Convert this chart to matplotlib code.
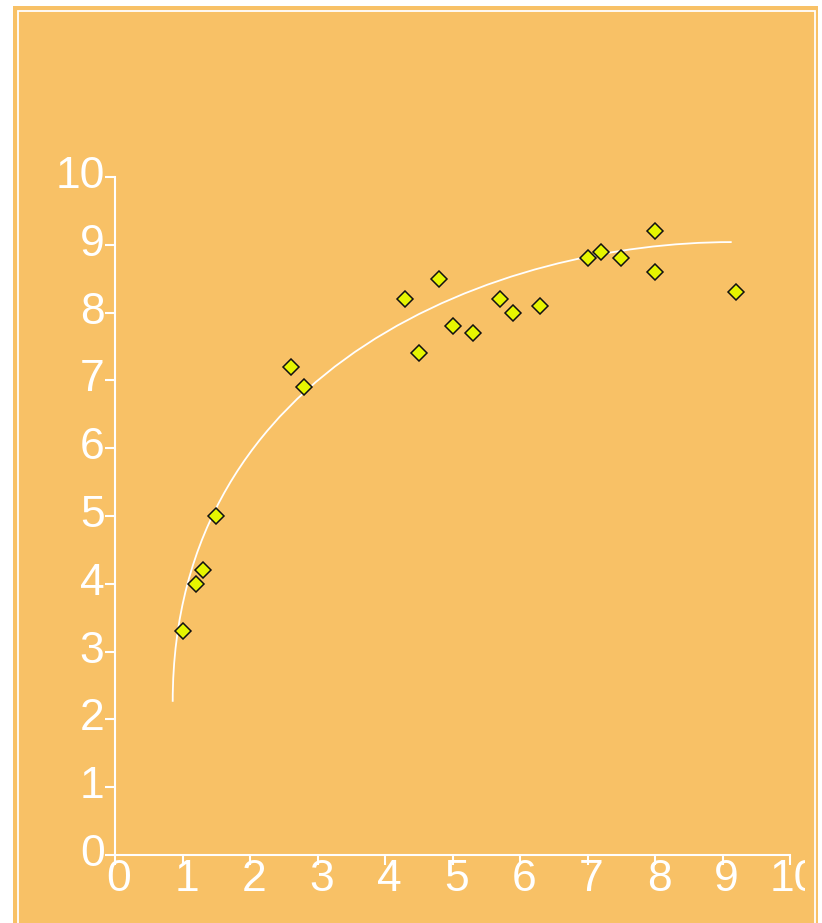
import matplotlib
matplotlib.use("Agg")
import matplotlib.pyplot as plt
from matplotlib.patches import Rectangle, PathPatch
from matplotlib.path import Path
from matplotlib.transforms import ScaledTranslation, Bbox, TransformedBbox

# Observations
x_vals = [1.0, 1.2, 1.3, 1.5, 2.6, 2.8, 4.3, 4.5, 4.8, 5.0,
          5.3, 5.7, 5.9, 6.3, 7.0, 7.2, 7.5, 8.0, 8.0, 9.2]
y_vals = [3.3, 4.0, 4.2, 5.0, 7.2, 6.9, 8.2, 7.4, 8.5, 7.8,
          7.7, 8.2, 8.0, 8.1, 8.8, 8.9, 8.8, 9.2, 8.6, 8.3]

# Trend curve: cubic Bezier (start, two handles, end) in data units
trend_x = [0.855, 0.855, 5.7, 9.136]
trend_y = [2.26, 7.25, 9.04, 9.04]

x_ticks = [0, 1, 2, 3, 4, 5, 6, 7, 8, 9, 10]
y_ticks = [0, 1, 2, 3, 4, 5, 6, 7, 8, 9, 10]

ORANGE = "#F8C166"
WHITE = "#FFFFFF"
W, H = 822, 923

fig = plt.figure(figsize=(W / 100, H / 100), dpi=100, facecolor=WHITE)

# Orange panel with inset white frame
fig.patches.append(Rectangle((13 / W, 0), (818 - 13) / W, (H - 6) / H,
                             transform=fig.transFigure, facecolor=ORANGE,
                             edgecolor="none", zorder=-3))
fig.patches.append(Rectangle((17.5 / W, -0.05), (814.5 - 17.5) / W, (H - 11) / H + 0.05,
                             transform=fig.transFigure, fill=False,
                             edgecolor=WHITE, linewidth=1.3, zorder=-2))

ax = fig.add_axes([115 / W, (H - 855) / H, 675 / W, 678 / H])
ax.patch.set_visible(False)
ax.set_xlim(0, 10)
ax.set_ylim(0, 10)

for side in ("top", "right"):
    ax.spines[side].set_visible(False)
for side in ("left", "bottom"):
    ax.spines[side].set_color(WHITE)
    ax.spines[side].set_linewidth(1.5)

ax.set_xticks(x_ticks)
ax.set_yticks(y_ticks)
ax.set_xticklabels([str(t) for t in x_ticks])
ax.set_yticklabels([str(t) for t in y_ticks])
ax.tick_params(axis="both", direction="out", length=7.5, width=1.5,
               colors=WHITE, labelsize=32)
ax.tick_params(axis="x", pad=-4.5)
ax.tick_params(axis="y", pad=0)
for lab in ax.get_xticklabels() + ax.get_yticklabels():
    lab.set_fontfamily("Liberation Sans")

dx = ScaledTranslation(4 / 100, 0, fig.dpi_scale_trans)
for lab in ax.get_xticklabels():
    lab.set_transform(lab.get_transform() + dx)
dy = ScaledTranslation(0, 5 / 100, fig.dpi_scale_trans)
for lab in ax.get_yticklabels():
    lab.set_transform(lab.get_transform() + dy)

# the last x label is cut by the plot panel edge
clip = TransformedBbox(Bbox([[0, 0], [805 / W, 1]]), fig.transFigure)
last = ax.get_xticklabels()[-1]
last.set_clip_box(clip)
last.set_clip_on(True)

# Trend curve
verts = list(zip(trend_x, trend_y))
codes = [Path.MOVETO, Path.CURVE4, Path.CURVE4, Path.CURVE4]
ax.add_patch(PathPatch(Path(verts, codes), fill=False, edgecolor=WHITE,
                       linewidth=1.3, zorder=2, clip_on=False))

# Scatter of observations
ax.plot(x_vals, y_vals, linestyle="none", marker="D", markersize=7.8,
        markerfacecolor="#E6F500", markeredgecolor="#111111",
        markeredgewidth=1.1, zorder=3, clip_on=False)

fig.savefig("out.png", dpi=100, facecolor=WHITE)
